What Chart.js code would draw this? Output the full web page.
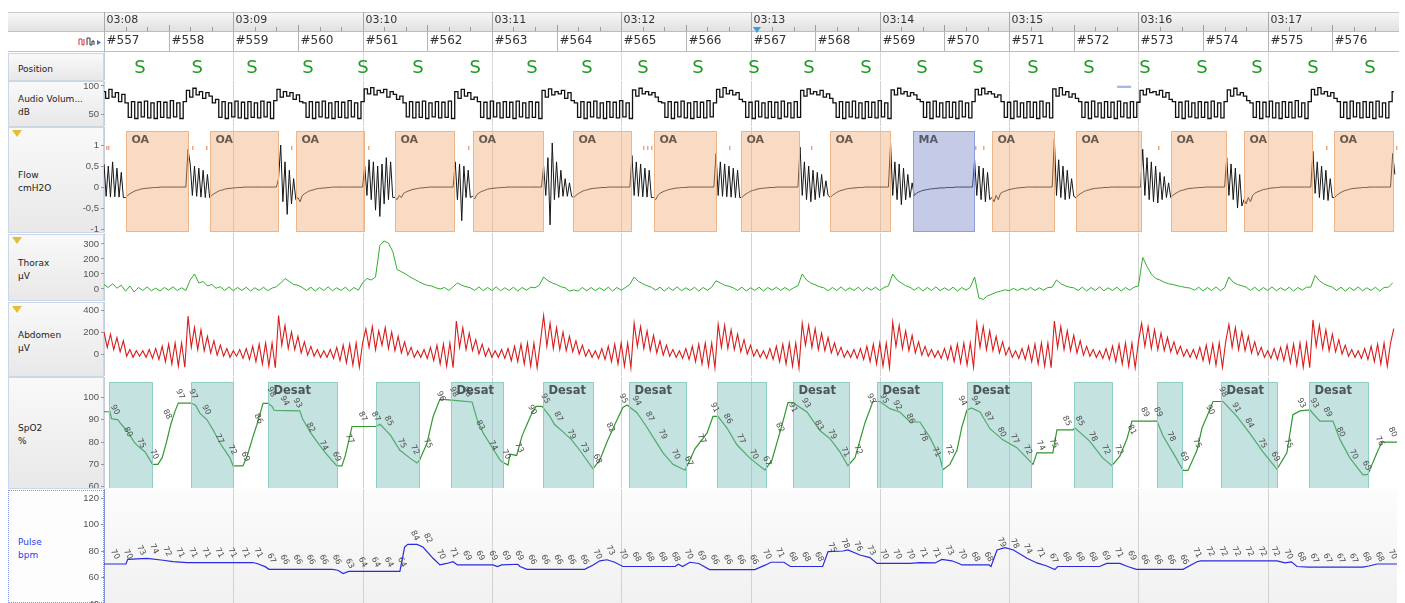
<!DOCTYPE html>
<html>
<head>
<meta charset="utf-8">
<title>Sleep study 03:08 - 03:18</title>
<script src="https://cdn.jsdelivr.net/npm/chart.js@4.4.1/dist/chart.umd.min.js"></script>
<style>
  body { margin: 0; width: 1405px; height: 603px; overflow: hidden; background: #fff; position: relative; font-family: 'DejaVu Sans', sans-serif; }
  canvas { position: absolute; left: 60px; }
  .lab { position: absolute; left: 8px; width: 96px; box-sizing: border-box; border: 1px solid #cbd7e5; background: linear-gradient(#f9f9f9, #e8e8e8); font-size: 9px; color: #222; line-height: 13px; padding: 4px 0 0 9px; display: flex; flex-direction: column; justify-content: center; }
  .lab.pulse { background: #fdfdfd; border: 1px dotted #8194e8; color: #2b3fe6; }
  .funnel { position: absolute; left: 12px; width: 0; height: 0; border-left: 5px solid transparent; border-right: 5px solid transparent; border-top: 7px solid #e4bd3a; }
  #hdrL { position: absolute; left: 8px; top: 12px; width: 96px; height: 20px; box-sizing: border-box; background: linear-gradient(#f8f8f8, #e1e1e1); border-top: 1px solid #c8c8c8; border-bottom: 1px solid #c2c2c2; }
  #epL { position: absolute; left: 8px; top: 31px; width: 96px; height: 21px; box-sizing: border-box; border-bottom: 1px solid #c2c2c2; }
  #pulseBg { position: absolute; left: 104px; top: 489px; width: 1293px; height: 114px; background: linear-gradient(#fcfcfc, #f1f1f1); }
</style>
</head>
<body>
<div id="hdrL"></div>
<div id="epL"><svg width="30" height="14" style="position:absolute;left:70px;top:3px"><path d="M1 11 V5 H4 V11 H6 V5" stroke="#d33" fill="none"/><path d="M9 11 V4 H12 V11 H14 V7 H16 V11" stroke="#333" fill="none"/><path d="M19 6 L23 8.5 L19 11 Z" fill="#3a6fd8"/></svg></div>
<div id="pulseBg"></div>
<div class="lab" style="top:53px;height:28px">Position</div>
<div class="lab" style="top:81px;height:46px"><span>Audio Volum...</span><span>dB</span></div>
<div class="lab" style="top:127px;height:106px"><span>Flow</span><span>cmH2O</span></div>
<div class="lab" style="top:234px;height:67px"><span>Thorax</span><span>µV</span></div>
<div class="lab" style="top:302px;height:75px"><span>Abdomen</span><span>µV</span></div>
<div class="lab" style="top:377px;height:112px"><span>SpO2</span><span>%</span></div>
<div class="lab pulse" style="top:490px;height:113px"><span>Pulse</span><span>bpm</span></div>
<div class="funnel" style="top:130px"></div>
<div class="funnel" style="top:237px"></div>
<div class="funnel" style="top:306px"></div>
<script>
// time axis: seconds after 03:08:00
const minuteLabels = ['03:08', '03:09', '03:10', '03:11', '03:12', '03:13', '03:14', '03:15', '03:16', '03:17'];
const epochLabels = ['#557', '#558', '#559', '#560', '#561', '#562', '#563', '#564', '#565', '#566',
  '#567', '#568', '#569', '#570', '#571', '#572', '#573', '#574', '#575', '#576'];
const cursorTime = 303;

const positionTimes = [16.7, 43.2, 68.7, 94.7, 120.2, 145.7, 172.2, 198.6, 224.1, 250.1, 275.6, 301.6,
  327.1, 353.6, 379.6, 405.6, 431.1, 457.1, 483.1, 509.5, 535.0, 561.0, 587.5];
const positionCode = 'S';

// scored events
const apneaStart = [10.2, 49.2, 89.1, 135.0, 171.2, 217.6, 255.2, 295.6, 336.9, 375.4, 412.1, 451.0, 495.1, 529.0, 570.8];
const apneaEnd = [39.0, 80.7, 120.6, 162.4, 203.7, 244.5, 284.0, 322.5, 364.7, 403.7, 440.8, 481.2, 520.6, 560.6, 598.1];
const apneaType = ['OA', 'OA', 'OA', 'OA', 'OA', 'OA', 'OA', 'OA', 'OA', 'MA', 'OA', 'OA', 'OA', 'OA', 'OA'];

const desatStart = [2.3, 40.4, 76.1, 126.2, 161.0, 203.7, 243.6, 284.5, 319.7, 358.7, 400.5, 450.1, 488.6, 518.3, 559.2];
const desatEnd = [22.3, 59.9, 108.1, 146.2, 185.2, 226.9, 270.1, 307.2, 345.7, 388.9, 430.2, 467.7, 500.2, 544.3, 586.5];
const desatLabel = ['', '', 'Desat', '', 'Desat', 'Desat', 'Desat', '', 'Desat', 'Desat', 'Desat', '', '', 'Desat', 'Desat'];

const flowMarkTimes = [0.9, 1.9, 40.8, 47.3, 86.8, 122.5, 168.9, 250.1, 252.0, 253.8, 290.0, 328.1, 404.2, 407.9, 489.1, 567.1, 599.5];
const snoreMarkStart = [470.1];
const snoreMarkEnd = [476.6];

// audio volume, dB, one sample every 1.5 s
const AUDIO_STEP = 1.5;
const audioDb = [
  90,78,94,80,88,72,85,
  70,44,72,42,71,45,73,43,70,42,72,44,71,43,74,45,70,42,72,
  92,80,96,84,90,78,88,
  82,70,76,44,72,42,70,45,73,43,71,42,72,44,70,43,73,45,71,42,74,
  94,80,90,82,88,76,
  84,72,70,44,72,42,71,45,73,43,70,42,72,44,71,43,74,45,70,42,72,
  95,86,97,84,92,88,94,80,90,
  85,76,82,70,45,72,43,71,44,73,42,70,45,72,43,71,44,73,42,
  90,78,94,82,88,76,
  80,72,44,71,42,73,45,70,43,72,44,71,42,73,45,70,43,72,44,71,42,
  92,80,95,84,90,86,92,78,88,74,
  70,44,72,42,71,45,73,43,70,42,72,44,71,43,74,45,70,42,
  93,82,96,86,90,84,88,
  80,72,70,44,72,42,71,45,73,43,70,42,72,44,71,43,74,45,70,
  94,80,97,86,92,84,88,76,
  72,44,71,42,73,45,70,43,72,44,71,42,73,45,70,43,72,44,
  92,82,95,86,90,84,92,80,86,
  78,70,44,72,42,71,45,73,43,70,42,72,44,71,43,74,45,70,42,
  93,84,96,86,90,82,88,
  84,76,72,44,71,42,73,45,70,43,72,44,71,42,73,45,70,43,72,
  94,84,96,86,90,
  86,80,84,72,44,71,42,73,45,70,43,72,44,71,42,73,45,70,43,
  95,82,97,84,90,80,86,
  78,72,44,71,42,73,45,70,43,72,44,71,42,73,45,70,43,72,44,71,
  92,84,95,88,90,84,92,80,88,76,
  72,44,71,42,73,45,70,43,72,44,71,42,73,45,70,43,72,
  93,82,96,84,88,
  82,74,70,44,72,42,71,45,73,43,70,42,72,44,71,43,74,45,70,42,72,
  94,84,97,86,90,82,88,
  78,72,44,71,42,73,45,70,43,72,44,71,42,73,45,70,43,72,
  90
];

// nasal flow, cmH2O, one sample per second
const FLOW_STEP = 1;
const flowCmH2O = [
  .55,-.22,.5,-.24,.6,-.23,.45,-.24,.35,-.25,
  -.25,-.2,-.16,-.13,-.1,-.08,-.07,-.05,-.04,-.03,-.03,-.02,-.02,-.01,-.01,-.01, 0,0,0,0,0, 0,0,0,0,0, 0,0,0,
  .9,.55,-.2,.5,-.22,.45,-.24,.4,-.25,.3,
  -.25,-.2,-.16,-.13,-.1,-.08,-.07,-.05,-.04,-.03,-.03,-.02,-.02,-.01,-.01,-.01, 0,0,0,0,0, 0,0,0,0,0, 0,0,0,0,0, 0,
  .2,1,-.35,.6,-.65,.4,-.4,.2,
  -.3,-.25,-.35,-.2,-.16,-.13,-.1,-.08,-.07,-.05,-.04,-.03,-.03,-.02,-.02,-.01,-.01, 0,0,0,0,0, 0,0,0,0,0, 0,0,0,0,0,
  .5,-.2,.65,-.3,.6,-.55,.5,-.7,.55,-.4,.7,-.3,.6,-.25,
  -.25,-.3,-.2,-.25,-.15,-.12,-.1,-.08,-.06,-.05,-.04,-.03,-.02,-.02,-.01,-.01, 0,0,0,0,0, 0,0,0,0,0, 0,0,
  .6,-.3,.55,-.8,.5,-.25,.4,-.25,
  -.22,-.28,-.18,-.14,-.11,-.09,-.07,-.05,-.04,-.03,-.03,-.02,-.02,-.01,-.01,-.01, 0,0,0,0,0, 0,0,0,0,0, 0,0,0,0,0, 0,0,
  .5,-.2,.7,-.9,1.05,-.3,.6,-.25,.4,-.22,.2,-.22,.1,-.22,
  -.25,-.2,-.16,-.13,-.1,-.08,-.07,-.05,-.04,-.03,-.03,-.02,-.02,-.01,-.01,-.01, 0,0,0,0,0, 0,0,0,0,0, 0,
  .75,-.2,.6,-.22,.55,-.23,.45,-.24,.4,-.25,
  -.25,-.3,-.2,-.15,-.12,-.1,-.08,-.06,-.05,-.04,-.03,-.02,-.02,-.01,-.01,-.01, 0,0,0,0,0, 0,0,0,0,0, 0,0,0,
  .8,-.2,.6,-.22,.55,-.23,.5,-.24,.45,-.25,.4,-.25,
  -.25,-.2,-.16,-.13,-.1,-.08,-.07,-.05,-.04,-.03,-.03,-.02,-.02,-.01,-.01,-.01, 0,0,0,0,0, 0,0,0,0,0, 0,
  .95,-.2,.6,-.3,.5,-.35,.4,-.3,.35,-.25,.3,-.22,.15,-.2,
  -.25,-.2,-.16,-.13,-.1,-.08,-.07,-.05,-.04,-.03,-.03,-.02,-.02,-.01,-.01,-.01, 0,0,0,0,0, 0,0,0,0,0, 0,0,
  1.05,-.2,.6,-.3,.55,-.42,.45,-.3,.3,-.25,.1,
  -.2,-.15,-.12,-.1,-.08,-.07,-.06,-.05,-.04,-.04,-.03,-.03,-.02,-.02,-.02,-.01,-.01,-.01,-.01, 0,0,0,0,0, 0,0,0,0,
  .65,-.2,.5,-.3,.45,-.35,.35,-.3,
  -.25,-.35,-.2,-.3,-.15,-.12,-.1,-.08,-.06,-.05,-.04,-.03,-.02,-.02,-.01,-.01, 0,0,0,0,0, 0,0,0,0,0, 0,0,0,
  1.15,-.2,.65,-.25,.5,-.3,.4,-.28,.2,-.22,
  -.25,-.2,-.16,-.13,-.1,-.08,-.07,-.05,-.04,-.03,-.03,-.02,-.02,-.01,-.01,-.01, 0,0,0,0,0, 0,0,0,0,0, 0,0,0,0,0,
  .9,-.2,.7,-.3,.6,-.35,.5,-.38,.35,-.3,.25,-.25,.1,
  -.25,-.2,-.16,-.13,-.1,-.08,-.07,-.05,-.04,-.03,-.03,-.02,-.02,-.01,-.01,-.01, 0,0,0,0,0, 0,0,0,0,0,
  .7,-.2,.55,-.3,.45,-.5,.3,-.45,
  -.3,-.4,-.25,-.35,-.2,-.15,-.12,-.1,-.08,-.06,-.05,-.04,-.03,-.02,-.02,-.01,-.01, 0,0,0,0,0, 0,0,0,0,0, 0,0,0,0,0,
  .85,-.15,.6,-.25,.5,-.3,.4,-.32,.2,-.25,
  -.25,-.2,-.16,-.13,-.1,-.08,-.07,-.05,-.04,-.03,-.03,-.02,-.02,-.01,-.01,-.01, 0,0,0,0,0, 0,0,0,0,0, 0,
  .8,.3
];

// thorax effort, µV, one sample every 2 s
const THORAX_STEP = 2;
const thoraxUv = [
  30,10,35,5,25,-15,20,-20,10,-10,14,-12,6,-14,10,-8,14,-10,8,-10,
  60,100,40,50,20,30,5,15,-10,14,-12,10,-10,12,-14,8,-10,12,-12,6,
  15,40,70,50,30,25,10,-10,12,-14,10,-10,14,-12,8,-10,12,-14,10,-8,
  40,70,60,80,290,320,305,250,130,115,100,80,65,50,35,25,20,8,0,10,
  -10,15,40,25,15,8,-10,14,-12,10,-10,14,-12,8,-10,12,-14,10,-8,12,
  8,25,80,55,40,30,15,8,-14,-6,-14,10,-12,10,-12,8,-10,12,-14,10,
  -8,10,30,80,50,35,22,12,-8,12,-14,10,-10,14,-12,8,-10,12,-14,10,
  -8,12,55,40,25,18,8,-10,12,-14,8,-10,12,-14,10,-8,12,-10,10,-10,
  8,22,100,60,40,28,15,8,-12,10,-10,14,-12,8,-10,12,-14,10,-8,12,
  -10,10,20,100,60,40,22,12,-8,12,-14,10,-10,14,-12,8,-10,12,-14,10,
  -8,12,80,-60,-70,-45,-35,-22,-15,-5,-12,4,-10,6,-8,10,-10,8,-8,10,
  12,60,35,22,12,8,-10,12,-14,10,-10,14,-12,8,-10,12,-14,10,-8,12,
  20,210,150,100,70,60,45,35,30,22,16,10,6,-8,12,-14,10,-10,14,-12,
  8,80,45,30,22,12,-10,12,-14,10,-10,14,-12,8,-10,12,-14,10,-8,12,
  12,90,55,35,22,12,-10,12,-14,10,-10,14,-12,8,-10,12,-14,10,12,40
];

// abdomen effort, µV, one sample every 1.5 s
const ABDOMEN_STEP = 1.5;
const abdomenUv = [
  200,60,180,40,150,20,120,
  -20,40,-30,30,-20,30,-30,40,-40,50,-50,70,-70,90,-90,100,-110,100,-120,
  345,60,240,40,220,30,160,
  10,120,-10,80,-20,50,-30,30,-20,40,-40,50,-50,70,-70,90,-90,100,-110,100,-125,
  350,80,260,50,200,40,
  160,10,110,-10,70,-20,40,-30,30,-30,40,-40,60,-60,80,-80,90,-100,100,-120,100,
  230,60,250,40,210,80,240,50,200,
  30,160,10,110,-10,60,-30,30,-30,40,-40,60,-60,80,-90,90,-110,100,-125,
  300,60,240,40,190,30,
  130,0,90,-20,50,-30,30,-30,40,-40,50,-60,70,-70,90,-90,100,-110,100,-125,110,
  350,70,280,50,240,40,200,30,160,20,
  120,0,80,-20,40,-30,30,-40,50,-50,70,-70,90,-90,100,-110,100,-125,
  280,70,250,50,210,30,170,
  10,120,-10,80,-20,40,-30,30,-40,50,-50,70,-70,90,-90,100,-110,100,-125,
  270,60,260,50,220,40,180,20,
  130,0,80,-20,40,-30,30,-40,50,-50,70,-70,90,-90,100,-110,100,-125,
  280,80,260,60,230,40,190,30,150,
  10,100,-10,60,-30,30,-30,40,-40,50,-50,70,-70,90,-90,100,-110,100,-125,
  290,70,260,50,210,30,170,
  10,110,-10,70,-20,40,-30,30,-40,50,-50,70,-70,90,-80,100,-100,100,-120,
  280,60,250,40,210,
  30,160,10,110,-10,60,-30,30,-40,50,-50,70,-70,90,-90,100,-110,100,-125,
  300,60,250,40,210,30,170,
  10,120,-10,70,-20,40,-30,30,-40,50,-50,70,-70,90,-90,100,-110,100,-125,110,
  280,70,250,50,220,40,190,30,150,20,
  110,0,70,-20,40,-30,40,-40,60,-60,80,-80,90,-100,100,-120,110,
  270,60,240,40,200,
  30,160,10,110,-10,60,-30,30,-40,50,-50,60,-60,80,-80,90,-100,100,-120,100,-125,
  310,70,260,50,220,30,180,
  20,130,0,80,-20,40,-30,30,-40,50,-50,70,-70,90,-90,100,-110,100,
  230
];

// SpO2 trace, % (time in s, value)
const spo2Time = [
  0,2.8,3.5,6.5,8,11,14,16,19,21.3,
  22.5,25,27,29,31,33,34.5,40.4,42.5,44.5,
  47.8,50.6,53.8,58.5,59.9,64.5,66.5,69,71,73.8,
  76.1,78,79,90.9,92,96,99,102.5,106,108.1,
  110.4,112,115.1,126.2,128.1,131.3,133,137.3,142,145.2,
  146.5,149.9,152.7,155.9,165.2,170.8,173.1,176,180.5,183.7,
  185,187.5,188.4,191.5,194,196.3,198.6,200.5,203.2,206.9,
  209,213,217,221,226.9,230.1,233.4,237.1,240.8,242.7,
  247.3,251,254.3,259.4,264,269.6,271.9,274.2,279.8,282.6,
  284.9,289.1,293.7,299.7,306.7,310,314.6,317.4,319.7,326.2,
  332.2,336.9,341.5,345.2,348.5,353.1,356.8,360.1,364.7,369.3,
  374,378.6,383.3,387.9,389.3,392.5,395.8,398.1,400.4,402.5,
  406.5,411.1,417.1,423.6,431.1,432.9,440.3,442.2,449.6,450.6,
  457.5,463.5,467.7,471.4,474.7,477,488.6,491.4,497,500.7,
  503,507.2,509.5,511.8,514.6,519.3,525.7,531.8,537.8,544.3,
  548.9,551.7,555,559.6,564.2,570.3,573.5,578.2,584.2,586.5,
  590.7,593,600
];
const spo2Pct = [
  93.6,93.6,90.5,90,88,84.7,80,78,75.7,72,
  70,70,73,80,88,94,97.5,97.5,96.5,93,
  90,85.5,79.6,72.8,69.3,69.3,74,82,88,97.4,
  97.4,96,94.2,94,90.7,84,80,75.5,71.5,69.3,
  69.3,74,87,87,88,84.8,83,76.3,72.8,70.6,
  72,79.6,91.4,99.3,98.5,98,90.3,84,77,72,
  70.9,69.7,74.6,74,82.8,88,93,96,96,91.5,
  88,84.6,81,76,68,72,80,88,95.5,96.6,
  93.2,88,83,75.2,70,67.4,72,77,84,91.5,
  91.5,86.3,78.8,72.8,67.4,72,87.6,97.7,97.7,93.5,
  85.2,81.5,75.6,69.4,73,88.6,98.2,98.2,95,93.5,
  89,89,82,73,67.6,70,76.3,86.8,94.3,95.3,
  93.5,86,81,77.5,70,75.2,75.2,85.5,85.5,86.3,
  80.3,72.8,69.4,73.7,81.5,89.4,89.4,82.8,73.7,67.3,
  67.3,76.3,86.3,91.5,98.2,98.2,91.5,83.8,75.6,67.8,
  75.2,92.3,94,94.4,89.4,89.4,81.2,72.8,65.3,65.5,
  75.2,80,80
];

// pulse trace, bpm (time in s, value)
const pulseTime = [
  0,10.2,11,20,27.4,32,38.5,69,71,75,
  76.5,106,108.5,111,113.5,137.3,139.5,141,145.2,148,
  152.7,155.9,159,162,164,180.5,182.5,184.5,192,193,
  196.3,223,227,230.1,233.4,237,240.8,265,266.5,268.5,
  271.9,276,281,302,307,309.5,315.5,318.5,333.5,336,
  343,345.2,350.8,355.4,358.7,374,378.6,385.7,388.8,393.4,
  396.7,398.1,410.7,411.6,414.4,418.1,422,428.3,432.9,437.5,
  441.2,442.6,462,465.3,471.4,475,479,500.7,507.2,509,
  544.3,548,551,553.6,559,584.2,587,590.7,600
];
const pulseBpm = [
  70.2,70.2,73.7,74.5,73,72,71.3,71.3,70.6,68,
  66.2,66.2,65.5,63,64.6,64.6,83,85,85,83,
  74.5,69.5,70.6,71.9,69.5,69.5,68.3,69.5,70,68.3,
  66.2,66.2,69.5,72.6,73.4,71.5,68.3,68.3,70,68.3,
  71.5,70.6,66,66,69.5,71.5,71.5,68.3,68.3,79.5,
  80,80.8,77,75,70.6,70.6,71.3,71,73.7,72.6,
  70.6,69.5,69.5,68.3,80.8,82.6,80.8,74.5,71,68.7,
  66,68.3,68.3,70.6,70.6,68.3,66.2,66.2,71.9,72.6,
  72.6,71,71.8,68.3,67.8,67.8,68.7,70.2,70.2
];

// value readouts printed along the SpO2 and pulse traces
const READING_START = 5.1;
const READING_STEP = 6.05;
const spo2Readings = [
  90,80,75,70,88,97,97,90,77,72,69,86,98,94,93,82,74,69,77,87,87,85,75,72,75,96,98,
  98,83,74,70,73,90,95,87,79,73,68,82,95,94,87,79,70,67,77,91,86,77,70,67,82,91,93,83,79,71,72,95,95,92,86,78,
  71,72,94,94,87,80,77,72,74,75,85,85,78,72,72,81,89,89,78,69,75,90,98,91,84,75,69,75,93,93,89,80,70,65,76,80
];
const pulseReadings = [
  70,70,73,74,72,71,71,71,71,71,71,71,67,66,66,66,66,66,63,64,64,64,64,84,82,70,71,
  69,69,69,69,69,66,66,66,66,66,70,73,70,68,68,68,68,70,69,66,66,66,66,70,71,68,68,68,75,78,76,73,70,70,70,71,
  71,73,70,68,68,79,78,74,71,67,68,68,68,69,71,69,66,66,66,66,71,72,72,72,72,72,72,70,68,67,67,67,67,68,68,70
];

// ---------- helpers ----------
const series = (values, step) => values.map((v, i) => ({ x: i * step, y: v }));
const pairs = (ts, vs) => ts.map((t, i) => ({ x: t, y: vs[i] }));
const trace = (data, color, width, extra) =>
  Object.assign({ data, borderColor: color, borderWidth: width, pointRadius: 0, fill: false, tension: 0 }, extra || {});

function vline(ctx, x, y1, y2) { ctx.beginPath(); ctx.moveTo(x, y1); ctx.lineTo(x, y2); ctx.stroke(); }
function hline(ctx, x1, x2, y) { ctx.beginPath(); ctx.moveTo(x1, y); ctx.lineTo(x2, y); ctx.stroke(); }

const xAxis = () => ({ type: 'linear', min: 0, max: 600, display: false });

function yScale(ax) {
  return {
    min: ax.min, max: ax.max,
    afterFit(s) { s.width = 44; },
    afterBuildTicks(s) { s.ticks = ax.marks.map(v => ({ value: v })); },
    ticks: { display: false },
    grid: { drawOnChartArea: false, tickLength: 3, color: '#8e9aab' },
    border: { color: ax.dashed ? '#7f92e6' : '#c3cfdd', dash: ax.dashed ? [2, 2] : [] }
  };
}

// tick labels drawn from the y scale, clipped by the panel edge like the original
function tickLabels(ax) {
  return {
    id: 'tickLabels',
    afterDraw(chart) {
      const { ctx, chartArea: a, scales: { y } } = chart;
      ctx.save();
      ctx.font = '9.5px "Liberation Sans"';
      ctx.fillStyle = '#555';
      ctx.textAlign = 'right';
      ctx.textBaseline = 'middle';
      ax.marks.forEach(v => ctx.fillText(ax.fmt ? ax.fmt(v) : String(v), a.left - 5, y.getPixelForValue(v)));
      ctx.restore();
    }
  };
}

const minuteGrid = {
  id: 'minuteGrid',
  beforeDatasetsDraw(chart) {
    const { ctx, chartArea: a, scales: { x } } = chart;
    ctx.save();
    ctx.strokeStyle = '#d2d2d2';
    ctx.lineWidth = 1;
    minuteLabels.forEach((_, k) => { if (k) vline(ctx, Math.round(x.getPixelForValue(k * 60)) + 0.5, a.top, a.bottom); });
    ctx.restore();
  }
};

const boxLooks = {
  OA: { fill: 'rgba(242,175,122,0.45)', line: '#efb58a', text: '#6a5a4e', font: 'bold 11px "DejaVu Sans"' },
  MA: { fill: 'rgba(126,139,199,0.45)', line: '#8e9fd8', text: '#555a6a', font: 'bold 11px "DejaVu Sans"' },
  Desat: { fill: 'rgba(124,191,184,0.45)', line: '#8fcfc3', text: '#4c5656', font: 'bold 11.5px "DejaVu Sans"' }
};

function eventBoxes(starts, ends, names, yHi, yLo, fallback) {
  return {
    id: 'eventBoxes',
    afterDatasetsDraw(chart) {
      const { ctx, scales: { x, y } } = chart;
      const top = Math.round(y.getPixelForValue(yHi)) + 0.5;
      const bot = Math.round(y.getPixelForValue(yLo)) + 0.5;
      ctx.save();
      ctx.lineWidth = 1;
      ctx.textBaseline = 'middle';
      starts.forEach((s, i) => {
        const look = boxLooks[names[i]] || boxLooks[fallback];
        const l = Math.round(x.getPixelForValue(s)) + 0.5;
        const r = Math.round(x.getPixelForValue(ends[i])) + 0.5;
        ctx.fillStyle = look.fill;
        ctx.fillRect(l, top, r - l, bot - top);
        ctx.strokeStyle = look.line;
        ctx.strokeRect(l, top, r - l, bot - top);
        if (names[i]) {
          ctx.fillStyle = look.text;
          ctx.font = look.font;
          ctx.fillText(names[i], l + 5, top + 9);
        }
      });
      ctx.restore();
    }
  };
}

function readings(values) {
  return {
    id: 'readings',
    afterDatasetsDraw(chart) {
      const { ctx, chartArea: a, scales: { x, y } } = chart;
      ctx.save();
      ctx.beginPath();
      ctx.rect(a.left, a.top, a.right - a.left, a.bottom - a.top);
      ctx.clip();
      ctx.font = '8px "DejaVu Sans"';
      ctx.fillStyle = '#4a4a4a';
      ctx.textAlign = 'center';
      ctx.textBaseline = 'middle';
      values.forEach((v, k) => {
        ctx.save();
        ctx.translate(x.getPixelForValue(READING_START + k * READING_STEP), y.getPixelForValue(v) - 10);
        ctx.rotate(1.1);
        ctx.fillText(String(v), 0, 0);
        ctx.restore();
      });
      ctx.restore();
    }
  };
}

const flowMarks = {
  id: 'flowMarks',
  afterDatasetsDraw(chart) {
    const { ctx, scales: { x, y } } = chart;
    ctx.save();
    ctx.fillStyle = '#f3a27c';
    const top = y.getPixelForValue(0.98);
    flowMarkTimes.forEach(t => ctx.fillRect(Math.round(x.getPixelForValue(t)), top, 1.5, 4));
    ctx.restore();
  }
};

const snoreMarks = {
  id: 'snoreMarks',
  afterDatasetsDraw(chart) {
    const { ctx, scales: { x, y } } = chart;
    ctx.save();
    ctx.fillStyle = '#a9b4e2';
    snoreMarkStart.forEach((s, i) => {
      const l = x.getPixelForValue(s), r = x.getPixelForValue(snoreMarkEnd[i]);
      const t = y.getPixelForValue(100.5), b = y.getPixelForValue(96.5);
      ctx.fillRect(l, t, r - l, b - t);
    });
    ctx.restore();
  }
};

const headerRows = {
  id: 'headerRows',
  afterDraw(chart) {
    const { ctx, chartArea: a, scales: { x } } = chart;
    const tBot = a.top + 19, eBot = a.top + 39, right = a.right + 2;
    const px = t => Math.round(x.getPixelForValue(t)) + 0.5;
    ctx.save();
    const g = ctx.createLinearGradient(0, a.top, 0, tBot);
    g.addColorStop(0, '#f8f8f8');
    g.addColorStop(1, '#e1e1e1');
    ctx.fillStyle = g;
    ctx.fillRect(a.left, a.top, right - a.left, 19);
    ctx.lineWidth = 1;
    ctx.strokeStyle = '#c8c8c8';
    hline(ctx, a.left, right, a.top + 0.5);
    ctx.strokeStyle = '#bdbdbd';
    hline(ctx, a.left, right, tBot + 0.5);
    hline(ctx, a.left, right, eBot + 0.5);
    // ticks every 10 s
    ctx.strokeStyle = '#9c9c9c';
    for (let s = 10; s < 600; s += 10) {
      if (s % 60 === 0) continue;
      vline(ctx, px(s), tBot - (s % 30 === 0 ? 6 : 4), tBot);
    }
    // minutes
    ctx.font = '11px "DejaVu Sans"';
    ctx.textBaseline = 'middle';
    minuteLabels.forEach((lab, k) => {
      ctx.strokeStyle = '#a9a9a9';
      vline(ctx, px(k * 60), a.top, eBot);
      ctx.strokeStyle = '#dadada';
      if (k) vline(ctx, px(k * 60), eBot + 1, a.bottom);
      ctx.fillStyle = '#333';
      ctx.fillText(lab, px(k * 60) + 2, a.top + 8);
    });
    // epochs
    ctx.font = '12px "DejaVu Sans"';
    epochLabels.forEach((lab, k) => {
      ctx.strokeStyle = '#b4b4b4';
      vline(ctx, px(k * 30), tBot, eBot);
      ctx.fillStyle = '#333';
      ctx.fillText(lab, px(k * 30) + 2, a.top + 29);
    });
    // cursor marker
    const cx = x.getPixelForValue(cursorTime);
    ctx.fillStyle = '#3a9fd9';
    ctx.beginPath();
    ctx.moveTo(cx - 4, tBot - 4); ctx.lineTo(cx + 4, tBot - 4); ctx.lineTo(cx, tBot + 2); ctx.closePath();
    ctx.fill();
    // plot left edge in the position row
    ctx.strokeStyle = '#c3cfdd';
    vline(ctx, a.left + 0.5, eBot + 1, a.bottom);
    // body position letters
    ctx.font = '18px "DejaVu Sans"';
    ctx.fillStyle = '#1f9b1f';
    ctx.textAlign = 'center';
    positionTimes.forEach(t => ctx.fillText(positionCode, x.getPixelForValue(t), a.top + 56));
    ctx.restore();
  }
};

// one canvas per panel, exactly the panel's height
function panel(top, bottom, ax, datasets, plugins) {
  const c = document.createElement('canvas');
  c.width = 1345;
  c.height = bottom - top;
  c.style.top = top + 'px';
  document.body.appendChild(c);
  return new Chart(c, {
    type: 'line',
    data: { datasets },
    options: {
      responsive: false,
      animation: false,
      events: [],
      layout: { padding: { top: 0, bottom: 0, left: ax ? 0 : 44, right: 8 } },
      plugins: { legend: { display: false }, tooltip: { enabled: false } },
      scales: { x: xAxis(), y: ax ? yScale(ax) : { display: false, min: 0, max: 1 } }
    },
    plugins: ax ? plugins.concat([tickLabels(ax)]) : plugins
  });
}

panel(12, 80, null, [], [headerRows]);

panel(81, 126, { min: 28.6, max: 108.9, marks: [50, 100] },
  [trace(series(audioDb, AUDIO_STEP), '#111', 1.3, { stepped: 'middle' })],
  [minuteGrid, snoreMarks]);

panel(127, 232, { min: -1.07, max: 1.43, marks: [-1, -0.5, 0, 0.5, 1], fmt: v => String(v).replace('.', ',') },
  [trace(series(flowCmH2O, FLOW_STEP), '#161616', 1)],
  [minuteGrid, eventBoxes(apneaStart, apneaEnd, apneaType, 1.33, -1.05, 'OA'), flowMarks]);

panel(233, 301, { min: -80, max: 373, marks: [0, 100, 200, 300] },
  [trace(series(thoraxUv, THORAX_STEP), '#2fae2f', 1)],
  [minuteGrid]);

panel(302, 376, { min: -200, max: 473, marks: [0, 200, 400] },
  [trace(series(abdomenUv, ABDOMEN_STEP), '#d81c1c', 1.1)],
  [minuteGrid]);

panel(377, 488, { min: 59.4, max: 109.2, marks: [60, 70, 80, 90, 100] },
  [trace(pairs(spo2Time, spo2Pct), '#2f982f', 1.2)],
  [minuteGrid, eventBoxes(desatStart, desatEnd, desatLabel, 106.9, 59.6, 'Desat'), readings(spo2Readings)]);

panel(489, 604, { min: 40, max: 126.8, marks: [40, 60, 80, 100, 120], dashed: true },
  [trace(pairs(pulseTime, pulseBpm), '#2a2ae0', 1.2)],
  [minuteGrid, readings(pulseReadings)]);
</script>
</body>
</html>
